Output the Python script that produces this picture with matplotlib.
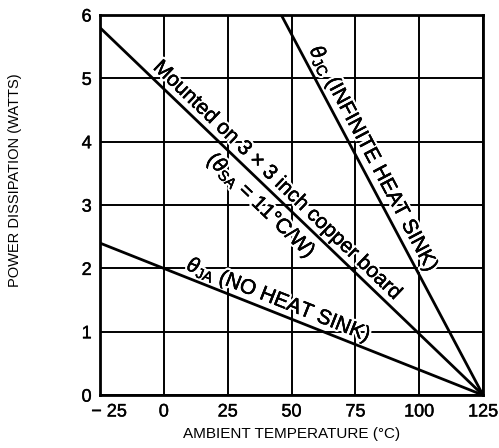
import numpy as np
import matplotlib
matplotlib.use('Agg')
import matplotlib.pyplot as plt
import matplotlib.patheffects as pe
import matplotlib.transforms as mtransforms

plt.rcParams['font.family'] = ['Liberation Sans', 'DejaVu Sans']
plt.rcParams['mathtext.fontset'] = 'custom'
plt.rcParams['mathtext.rm'] = 'Liberation Sans'
plt.rcParams['mathtext.it'] = 'Liberation Sans:italic'

# curve end points (ambient temp degC, power W)
jc_temp = [46, 125]
jc_power = [6.0, 0.0]
board_temp = [-25, 125]
board_power = [5.8, 0.0]
ja_temp = [-25, 125]
ja_power = [2.4, 0.0]

xticks = [-25, 0, 25, 50, 75, 100, 125]
xlabels = ['\u2212 25', '0', '25', '50', '75', '100', '125']
yticks = [0, 1, 2, 3, 4, 5, 6]

fig = plt.figure(figsize=(4.99, 4.48), dpi=100)
ax = fig.add_axes([0.2004, 0.118, 0.7676, 0.8485])

# lines sit above the text halos so only the grid gets masked
ax.plot(jc_temp, jc_power, color='black', lw=2, zorder=5)
ax.plot(board_temp, board_power, color='black', lw=2, zorder=5)
ax.plot(ja_temp, ja_power, color='black', lw=2, zorder=5)

ax.set_xlim(-25, 125)
ax.set_ylim(0, 6)
ax.set_xticks(xticks)
ax.set_xticklabels(xlabels)
ax.set_yticks(yticks)
ax.grid(True, color='black', lw=1.4)
ax.tick_params(length=0, labelsize=13, pad=6)
for s in ax.spines.values():
    s.set_linewidth(2)
    s.set_zorder(6)
bold = [pe.withStroke(linewidth=0.3, foreground='black')]
for t in ax.get_xticklabels() + ax.get_yticklabels():
    t.set_path_effects(bold)
# nudge the "-25" label right like the original
first = ax.get_xticklabels()[0]
first.set_transform(first.get_transform() +
                    mtransforms.ScaledTranslation(0.09, 0, fig.dpi_scale_trans))

ax.set_xlabel('AMBIENT TEMPERATURE (\u00b0C)', fontsize=11, labelpad=5)
fig.text(0.03, 0.598, 'POWER DISSIPATION (WATTS)', rotation=90, fontsize=10.5,
         ha='center', va='center')

halo = [pe.withStroke(linewidth=3.5, foreground='white'),
        pe.withStroke(linewidth=0.3, foreground='black')]


def label(x, tx, ty, s, off, va):
    # point on the line at x, text rotated along it and pushed off sideways
    y = np.interp(x, tx, ty)
    p0 = ax.transData.transform((tx[0], ty[0]))
    p1 = ax.transData.transform((tx[1], ty[1]))
    d = (p1 - p0) / np.hypot(*(p1 - p0))
    ang = np.degrees(np.arctan2(d[1], d[0]))
    nx, ny = -d[1], d[0]
    ax.annotate(s, xy=(x, y), xytext=(nx * off, ny * off),
                textcoords='offset pixels', rotation=ang,
                rotation_mode='anchor', ha='center', va=va,
                fontsize=15, path_effects=halo, zorder=4)


label(77.3, jc_temp, jc_power, r'$\theta_{\rm JC}$ (INFINITE HEAT SINK)', 8, 'baseline')
label(41.1, board_temp, board_power, 'Mounted on 3 \u00d7 3 inch copper board', 7, 'baseline')
label(42.7, board_temp, board_power, r'($\theta_{\rm SA}$ = 11' + '\u00b0C/W)', -5, 'top')
label(43.2, ja_temp, ja_power, r'$\theta_{\rm JA}$ (NO HEAT SINK)', 7, 'baseline')

fig.savefig('out.png', dpi=100)
